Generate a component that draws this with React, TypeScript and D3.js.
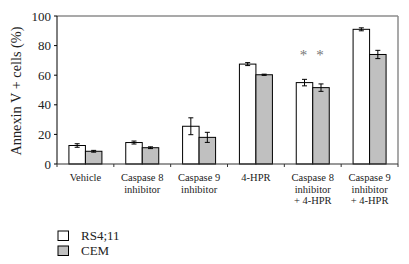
import React from "react";
import * as d3 from "d3";

const categories: string[][] = [
  ["Vehicle"],
  ["Caspase 8", "inhibitor"],
  ["Caspase 9", "inhibitor"],
  ["4-HPR"],
  ["Caspase 8", "inhibitor", "+ 4-HPR"],
  ["Caspase 9", "inhibitor", "+ 4-HPR"],
];
const seriesNames = ["RS4;11", "CEM"];
const rs411 = [12.5, 14.5, 25.5, 67.5, 55, 91];
const rs411Err = [1.2, 1.0, 5.7, 1.0, 2.2, 1.0];
const cem = [8.6, 11, 18, 60.3, 51.6, 74];
const cemErr = [0.6, 0.6, 3.4, 0.4, 2.5, 2.8];
const yTicks = [0, 20, 40, 60, 80, 100];
const starred = [4];
const starLevel = 75.5;

const W = 409, H = 264;
const M = { left: 57, right: 398, top: 16, bottom: 164 };
const font = "'Liberation Serif', 'Times New Roman', 'DejaVu Serif', serif";
const fills = ["#ffffff", "#c0c0c0"];

export default function App() {
  const x = d3.scaleBand<number>().domain(d3.range(categories.length)).range([M.left, M.right]);
  const y = d3.scaleLinear().domain([0, 100]).range([M.bottom, M.top]);
  const bw = 16.5;
  const series = [
    { v: rs411, e: rs411Err },
    { v: cem, e: cemErr },
  ];
  return (
    <svg width={W} height={H} style={{ position: "absolute", left: 0, top: 0, fontFamily: font }}>
      <rect x={0} y={0} width={W} height={H} fill="#fff" />
      <line x1={M.left} x2={M.right} y1={M.top} y2={M.top} stroke="#8c8c8c" strokeWidth={1.5} />
      <line x1={M.right} x2={M.right} y1={M.top} y2={M.bottom} stroke="#8c8c8c" strokeWidth={1.5} />
      {categories.map((_, i) => {
        const cx = x(i)! + x.bandwidth() / 2;
        return series.map((s, k) => {
          const x0 = cx - bw + k * bw;
          const top = y(s.v[i]);
          const bc = x0 + bw / 2;
          return (
            <g key={`${i}-${k}`}>
              <rect x={x0} y={top} width={bw} height={y(0) - top} fill={fills[k]} stroke="#000" strokeWidth={1} />
              <line x1={bc} x2={bc} y1={y(s.v[i] + s.e[i])} y2={y(s.v[i] - s.e[i])} stroke="#000" strokeWidth={1} />
              <line x1={bc - 2.5} x2={bc + 2.5} y1={y(s.v[i] + s.e[i])} y2={y(s.v[i] + s.e[i])} stroke="#000" strokeWidth={1} />
              <line x1={bc - 2.5} x2={bc + 2.5} y1={y(s.v[i] - s.e[i])} y2={y(s.v[i] - s.e[i])} stroke="#000" strokeWidth={1} />
              {starred.includes(i) && (
                <text x={bc - 1} y={y(starLevel) + 8} textAnchor="middle" fontSize={15} fill="#777">*</text>
              )}
            </g>
          );
        });
      })}
      <line x1={M.left} x2={M.left} y1={M.top} y2={M.bottom} stroke="#000" strokeWidth={1} />
      <line x1={M.left} x2={M.right} y1={M.bottom} y2={M.bottom} stroke="#333" strokeWidth={1.2} />
      {yTicks.map((t) => (
        <g key={t}>
          <line x1={M.left - 3} x2={M.left} y1={y(t)} y2={y(t)} stroke="#000" />
          <text x={M.left - 6} y={y(t) + 4.5} textAnchor="end" fontSize={13} fill="#222">{t}</text>
        </g>
      ))}
      {categories.map((_, i) => (
        <line key={i} x1={x(i)!} x2={x(i)!} y1={M.bottom} y2={M.bottom + 3} stroke="#333" />
      ))}
      <line x1={M.right} x2={M.right} y1={M.bottom} y2={M.bottom + 3} stroke="#333" />
      {categories.map((lines, i) => (
        <text key={i} x={x(i)! + x.bandwidth() / 2} y={181} textAnchor="middle" fontSize={10.5} fill="#222">
          {lines.map((l, j) => (
            <tspan key={j} x={x(i)! + x.bandwidth() / 2} dy={j === 0 ? 0 : 11.7}>{l}</tspan>
          ))}
        </text>
      ))}
      <text transform={`translate(21,91) rotate(-90)`} textAnchor="middle" fontSize={14.3} fill="#222">
        Annexin V + cells (%)
      </text>
      {seriesNames.map((n, k) => (
        <g key={n}>
          <rect x={58} y={231 + k * 15} width={10.5} height={9.5} fill={fills[k]} stroke="#000" strokeWidth={1} />
          <text x={81} y={240 + k * 15} fontSize={13} fill="#222">{n}</text>
        </g>
      ))}
    </svg>
  );
}
